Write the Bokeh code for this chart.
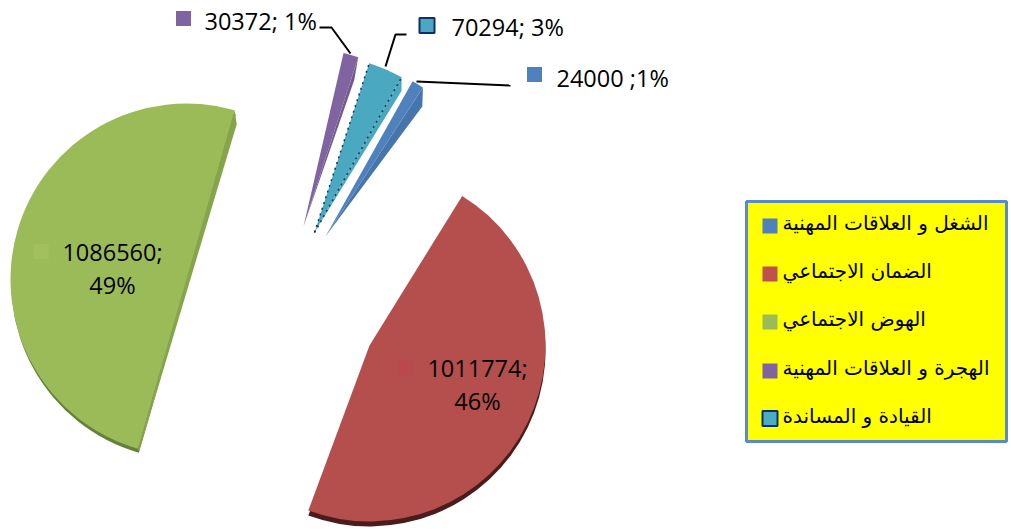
import math
from bokeh.plotting import figure
from bokeh.core.properties import value
from bokeh.embed import file_html
from bokeh.resources import INLINE

# ---- data
categories = ["الشغل و العلاقات المهنية", "الضمان الاجتماعي", "الهوض الاجتماعي",
              "الهجرة و العلاقات المهنية", "القيادة و المساندة"]
values = [24000, 1011774, 1086560, 30372, 70294]
percents = [1, 46, 49, 1, 3]
colors = ["#4f81bd", "#b54f4d", "#9bbb59", "#8064a2", "#4aa8c0"]
rim_colors = ["#4675ae", "#4a1c1e", "#64803a", "#74598f", "#4aa8c0"]
legend_colors = ["#4f81bd", "#c0504d", "#9bbb59", "#8064a2", "#4bacc6"]

# ---- layout (screen pixels of the 1011x529 window)
START_DEG = 60.7
RADII = [178, 176, 176, 178, 178]
CENTERS = [(325, 236), (369, 345), (186, 279), (303, 226), (314, 232)]
# perspective correction of each slice's low / high edge, degrees
EDGE_ADJ = [(0, 0), (-3.3, 1.4), (-2.9, 1.0), (0, 0), (0, 0)]
# side wall of the thin slices: extra sweep and radius, sharing the apex
WALL = [(3.5, 162), None, None, (1.2, 155), (2.3, 166)]

def Y(py):
    return 529 - py

def polar(cx, cy, r, a):
    """Point on a slice, in data units."""
    return cx + r * math.cos(math.radians(a)), Y(cy) + r * math.sin(math.radians(a))

p = figure(width=1011, height=529, x_range=(0, 1011), y_range=(0, 529),
           toolbar_location=None, output_backend="svg", min_border=0,
           outline_line_color=None, background_fill_color="white")
p.axis.visible = False
p.grid.visible = False

total = sum(values)
angle = START_DEG
spans = []
for v, (alo, ahi) in zip(values, EDGE_ADJ):
    a0 = angle
    angle -= 360.0 * v / total
    spans.append((angle + alo, a0 + ahi))

def wedge(cx, cy, r, lo, hi, color):
    p.wedge(x=cx, y=Y(cy), radius=r, start_angle=lo, end_angle=hi,
            start_angle_units="deg", end_angle_units="deg", fill_color=color, line_color=None)

# 3D walls of the thin slices
for (lo, hi), (cx, cy), rad, w, c in zip(spans, CENTERS, RADII, WALL, rim_colors):
    if w:
        pts = [(cx, Y(cy)), polar(cx, cy, rad, lo), polar(cx, cy, w[1], lo - w[0])]
        p.patch([q[0] for q in pts], [q[1] for q in pts], fill_color=c, line_color=None)

# 3D rim of the big slices
lo, hi = spans[1]
cx, cy = CENTERS[1]
wedge(cx, cy + 5, RADII[1], lo, hi, rim_colors[1])
lo, hi = spans[2]
cx, cy = CENTERS[2]
wedge(cx + 1, cy + 4, RADII[2], lo, hi, rim_colors[2])
# side wall along the green slice's straight edge
top = polar(cx, cy, RADII[2], lo)
bottom = polar(cx, cy, RADII[2], hi)
p.patch([top[0], top[0] + 2, bottom[0] + 1, bottom[0]],
        [top[1], top[1] - 14, bottom[1] - 3, bottom[1]], fill_color="#86a44b", line_color=None)
# top faces
for (lo, hi), (cx, cy), r, c in zip(spans, CENTERS, RADII, colors):
    wedge(cx, cy, r, lo, hi, c)

# dotted navy edges of the teal slice
lo, hi = spans[4]
cx, cy = CENTERS[4]
for a in (lo, hi):
    tip = polar(cx, cy, RADII[4], a)
    p.line([cx, tip[0]], [Y(cy), tip[1]], line_color="#17375e", line_width=1.5, line_dash="2 4")

# leader lines
leaders = [
    ([416, 510], [81, 85]),
    ([319, 331, 350], [27, 27, 53]),
    ([406, 395, 385], [34, 34, 66]),
]
for xs, ys in leaders:
    p.line(xs, [Y(v) for v in ys], line_color="black", line_width=2)

# data labels
label_font = value("Open Sans")
labels = [f"{values[0]} ;{percents[0]}%", f"{values[1]};", f"{percents[1]}%", f"{values[2]};",
          f"{percents[2]}%", f"{values[3]}; {percents[3]}%", f"{values[4]}; {percents[4]}%"]
label_x = [556, 477, 477, 112, 112, 204, 451]
label_y = [77, 367, 400, 251, 284, 20, 26]
label_align = ["left", "center", "center", "center", "center", "left", "left"]
for t, x, y, al in zip(labels, label_x, label_y, label_align):
    p.text(x=[x], y=[Y(y)], text=[t], text_font=label_font, text_font_size="23.5px",
           text_align=al, text_baseline="middle", text_color="black")

# swatches beside the labels
sw_x = [534, 404.5, 40.5, 183, 426.5]
sw_y = [74, 367.5, 251, 18, 25]
sw_fill = [colors[0], "#b9494c", "#a3c05e", colors[3], colors[4]]
sw_line = [None, None, None, None, "#0f2f66"]
for x, y, f, l in zip(sw_x, sw_y, sw_fill, sw_line):
    p.scatter(x=[x], y=[Y(y)], marker="square", size=15, fill_color=f, line_color=l, line_width=2)

# legend box
p.quad(left=[746], right=[1006], top=[Y(201)], bottom=[Y(441)], fill_color="#ffff00",
       line_color="#5b8bc6", line_width=3)
leg_y = [225.5, 273.5, 321.5, 370.5, 418]
for t, y, c, i in zip(categories, leg_y, legend_colors, range(5)):
    p.scatter(x=[769.5], y=[Y(y)], marker="square", size=15, fill_color=c,
              line_color="#0f2f66" if i == 4 else None, line_width=2)
    p.text(x=[782], y=[Y(y - 3)], text=[t], text_font=value("DejaVu Sans"), text_font_size="20px",
           text_align="left", text_baseline="middle", text_color="black")

open("out.html", "w").write(file_html(p, INLINE))
